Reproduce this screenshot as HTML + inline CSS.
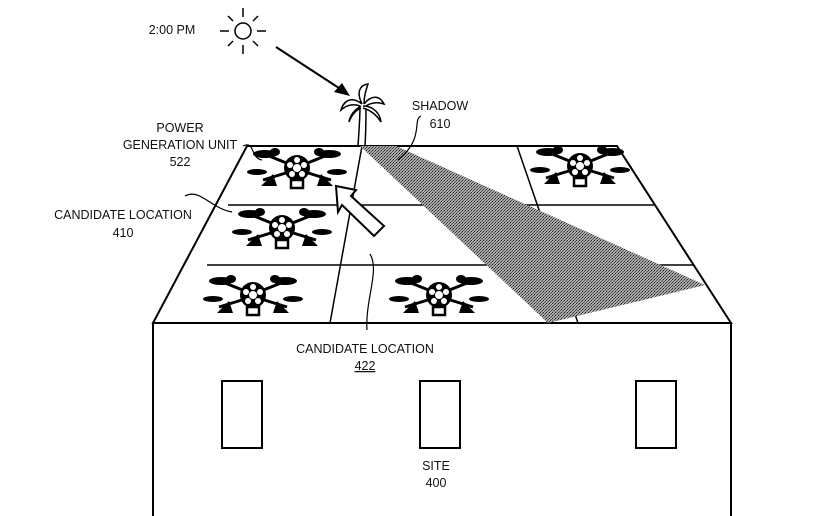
<!DOCTYPE html>
<html><head><meta charset="utf-8"><style>
html,body{margin:0;padding:0;background:#fff;}
svg{display:block}
text{font-family:"Liberation Sans",sans-serif;font-size:12.5px;fill:#111}
</style></head><body>
<svg width="834" height="516" viewBox="0 0 834 516" xmlns="http://www.w3.org/2000/svg">
<defs>
<pattern id="dots" width="3" height="3" patternUnits="userSpaceOnUse">
<rect width="3" height="3" fill="#aaa"/><rect width="1" height="1" fill="#222"/><rect x="2" y="1" width="1" height="1" fill="#444"/><rect x="1" y="2" width="1" height="1" fill="#555"/>
</pattern>
<g id="drone">
<g stroke="#000" stroke-width="3" fill="none">
<path d="M-8,-4 L-28,-12 M8,-4 L28,-12 M-8,4 L-34,12 M8,4 L34,12"/>
</g>
<g fill="#000">
<ellipse cx="-32" cy="-14" rx="12" ry="4"/><ellipse cx="32" cy="-14" rx="12" ry="4"/>
<ellipse cx="-40" cy="4" rx="10" ry="3"/><ellipse cx="40" cy="4" rx="10" ry="3"/>
<path d="M-24,6 L-36,18 L-20,18 Z M24,6 L36,18 L20,18 Z"/>
<ellipse cx="-22" cy="-16" rx="5" ry="4"/><ellipse cx="22" cy="-16" rx="5" ry="4"/>
</g>
<circle r="13" fill="#000"/>
<g fill="#fff"><circle r="4"/><circle cx="0" cy="-8" r="3"/><circle cx="7" cy="-3" r="3"/><circle cx="5" cy="6" r="3"/><circle cx="-5" cy="6" r="3"/><circle cx="-7" cy="-3" r="3"/></g>
<rect x="-6" y="12" width="12" height="8" fill="#fff" stroke="#000" stroke-width="2.5"/>
</g>
</defs>
<rect x="153" y="323" width="578" height="200" fill="#fff" stroke="#000" stroke-width="2"/>
<rect x="222" y="381" width="40" height="67" fill="none" stroke="#000" stroke-width="2"/>
<rect x="420" y="381" width="40" height="67" fill="none" stroke="#000" stroke-width="2"/>
<rect x="636" y="381" width="40" height="67" fill="none" stroke="#000" stroke-width="2"/>
<polygon points="247,146 617,146 731,323 153,323" fill="#fff" stroke="#000" stroke-width="2"/>
<line x1="228" y1="205" x2="655" y2="205" stroke="#000" stroke-width="1.5"/>
<line x1="207" y1="265" x2="693" y2="265" stroke="#000" stroke-width="1.5"/>
<line x1="362" y1="146" x2="330" y2="323" stroke="#000" stroke-width="1.5"/>
<line x1="517" y1="146" x2="578" y2="323" stroke="#000" stroke-width="1.5"/>
<polygon points="360,146 396,146 705,285 548,323" fill="url(#dots)"/>
<use href="#drone" x="297" y="168"/>
<use href="#drone" x="282" y="228"/>
<use href="#drone" x="253" y="295"/>
<use href="#drone" x="439" y="295"/>
<use href="#drone" x="580" y="166"/>
<polygon points="336,186 356,190 351,196 384,226 374,236 342,205 338,212" fill="#fff" stroke="#000" stroke-width="2"/>
<circle cx="243" cy="31" r="8" fill="none" stroke="#000" stroke-width="1.5"/>
<g stroke="#000" stroke-width="1.5">
<line x1="243" y1="8" x2="243" y2="17"/><line x1="243" y1="45" x2="243" y2="54"/>
<line x1="220" y1="31" x2="229" y2="31"/><line x1="257" y1="31" x2="266" y2="31"/>
<line x1="228" y1="16" x2="233" y2="21"/><line x1="253" y1="41" x2="258" y2="46"/>
<line x1="258" y1="16" x2="253" y2="21"/><line x1="228" y1="46" x2="233" y2="41"/>
</g>
<line x1="276" y1="47" x2="342" y2="90" stroke="#000" stroke-width="2"/>
<polygon points="350,96 334,92 342,83" fill="#000"/>
<path d="M358,146 C359,130 360,118 360,106 M365,146 C366,130 366,118 366,106" stroke="#000" stroke-width="1.5" fill="none"/>
<path d="M362,104 C352,96 344,100 341,110 C348,104 354,104 360,106 M362,104 C356,92 360,85 368,84 C366,90 364,96 364,104 M364,104 C372,94 380,96 384,104 C378,102 372,102 366,106 M363,106 C374,106 380,114 381,122 C376,114 370,110 363,108 M361,106 C354,110 350,116 349,122 C352,114 356,110 361,108" stroke="#000" stroke-width="1.5" fill="#fff"/>
<g stroke="#000" stroke-width="1.2" fill="none">
<path d="M243,146 C255,140 250,158 262,160"/>
<path d="M185,196 C200,188 210,208 232,212"/>
<path d="M421,116 C412,120 425,138 398,160"/>
<path d="M370,254 C380,270 365,300 367,330"/>
</g>
<text x="172" y="34" text-anchor="middle">2:00 PM</text>
<text x="440" y="110" text-anchor="middle">SHADOW</text>
<text x="440" y="128" text-anchor="middle">610</text>
<text x="180" y="132" text-anchor="middle">POWER</text>
<text x="180" y="149" text-anchor="middle">GENERATION UNIT</text>
<text x="180" y="166" text-anchor="middle">522</text>
<text x="123" y="219" text-anchor="middle">CANDIDATE LOCATION</text>
<text x="123" y="237" text-anchor="middle">410</text>
<text x="365" y="353" text-anchor="middle">CANDIDATE LOCATION</text>
<text x="365" y="370" text-anchor="middle" text-decoration="underline">422</text>
<text x="436" y="470" text-anchor="middle">SITE</text>
<text x="436" y="487" text-anchor="middle">400</text>
</svg>
</body></html>
